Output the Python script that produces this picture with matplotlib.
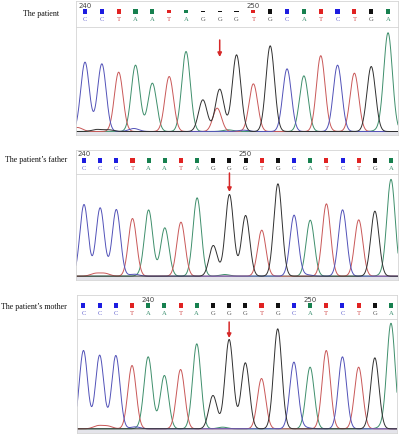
import numpy as np
import matplotlib
matplotlib.use('Agg')
import matplotlib.pyplot as plt

# ---- data ----
patient_bases = list('CCTAATAGGGTGCATCTGA')
patient_peaks = [208, 203, 178, 199, 145, 165, 240, 95, 127, 230, 143, 257, 188, 167, 225, 199, 175, 195, 295]
patient_qual = [1, 1, 1, 1, 1, 0.5, 0.8, 0.4, 0.4, 0.4, 0.5, 1, 1, 1, 1, 1, 1, 1, 1]
patient_extra = [('T', 7.85, 70)]                     # heterozygous T under the G
patient_noise = [('T', -0.45, 12), ('G', 0.7, 6), ('G', 1.4, 5), ('C', 2.9, 9),
                 ('A', 8.5, 5), ('C', 9.4, 4), ('T', 14.3, 4), ('A', 17.5, 5)]
patient_ticks = {0: '240', 10: '250'}
patient_arrow = (8, 276, 225)

father_bases = list('CCCTAATAGGGTGCATCTGA')
father_peaks = [215, 205, 200, 173, 197, 145, 162, 235, 92, 245, 182, 138, 277, 183, 168, 217, 199, 169, 195, 288]
father_qual = [1] * 20
father_extra = []
father_noise = [('T', 0.7, 8), ('T', 1.3, 8), ('C', 3.1, 6), ('A', 3.6, 4),
                ('A', 8.7, 5), ('C', 13.8, 4), ('A', 18.6, 6)]
father_ticks = {0: '240', 10: '250'}
father_arrow = (9, 311, 254)

mother_bases = list('CCCTAATAGGGTGCATCTGA')
mother_peaks = [235, 221, 220, 190, 213, 160, 178, 255, 100, 268, 198, 151, 300, 200, 185, 235, 216, 185, 213, 315]
mother_qual = [1] * 20
mother_extra = []
mother_noise = [('T', 0.9, 9), ('T', 1.5, 8), ('C', 3.2, 6), ('A', 3.7, 5),
                ('A', 8.6, 5), ('C', 13.7, 4), ('A', 18.5, 7)]
mother_ticks = {4: '240', 14: '250'}
mother_arrow = (9, 322, 274)

labels = ['The patient', 'The patient\u2019s father', 'The patient\u2019s mother']

TRACE = {'C': '#5252b8', 'T': '#c95858', 'A': '#3f8f6c', 'G': '#303030'}
SQUARE = {'C': '#1c1ce0', 'T': '#e02222', 'A': '#17804f', 'G': '#111111'}
LETTER = {'C': '#6464d0', 'T': '#d04848', 'A': '#3d9070', 'G': '#555555'}

W, H = 400, 434
fig = plt.figure(figsize=(W / 100, H / 100), dpi=100)


def px_axes(l, t, r, b):
    return fig.add_axes([l / W, 1 - b / H, (r - l) / W, (b - t) / H])


panels = [
    dict(bases=patient_bases, peaks=patient_peaks, qual=patient_qual, extra=patient_extra,
         noise=patient_noise, ticks=patient_ticks, arrow=patient_arrow,
         lab=(41, 14), box=(76, 1, 27, 135, 398), xlim=(-0.535, 18.59), ylim=(-9, 315)),
    dict(bases=father_bases, peaks=father_peaks, qual=father_qual, extra=father_extra,
         noise=father_noise, ticks=father_ticks, arrow=father_arrow,
         lab=(36, 160), box=(76, 150, 174, 280, 398), xlim=(-0.495, 19.43), ylim=(-10, 308)),
    dict(bases=mother_bases, peaks=mother_peaks, qual=mother_qual, extra=mother_extra,
         noise=mother_noise, ticks=mother_ticks, arrow=mother_arrow,
         lab=(34, 307), box=(77, 295, 319, 433, 397), xlim=(-0.4, 19.37), ylim=(-11, 331)),
]

sigma = 0.255
frame_col = '#d4d4d4'

for i, p in enumerate(panels):
    l, ht, hb, tb, r = p['box']
    n = len(p['bases'])
    pos = np.arange(n)

    # header with base calls
    hax = px_axes(l, ht, r, hb)
    hax.set_xlim(*p['xlim'])
    hax.set_ylim(hb - ht, 0)
    hax.set_xticks([]); hax.set_yticks([])
    for s in hax.spines.values():
        s.set_color(frame_col); s.set_linewidth(0.6)
    for k, (b, q) in enumerate(zip(p['bases'], p['qual'])):
        h = 4.2 * q
        hax.bar(pos[k], h, bottom=10.5 - h / 2, width=0.25, color=SQUARE[b])
        hax.text(pos[k], 18.5, b, ha='center', va='center', fontsize=4.8,
                 color=LETTER[b], family='Liberation Serif')
    for k, t in p['ticks'].items():
        hax.text(pos[k], 4.5, t, ha='center', va='center', fontsize=5, color='#444444')

    # trace
    ax = px_axes(l, hb, r, tb)
    ax.set_xlim(*p['xlim'])
    ax.set_ylim(*p['ylim'])
    ax.set_xticks([]); ax.set_yticks([])
    for s in ax.spines.values():
        s.set_color(frame_col); s.set_linewidth(0.6)
    ax.axhspan(p['ylim'][0], 0, color='#e4e4ea', lw=0)

    x = np.linspace(p['xlim'][0], p['xlim'][1], 1500)
    sig = {c: np.full_like(x, 1.5) for c in 'CTAG'}
    for k, (b, h) in enumerate(zip(p['bases'], p['peaks'])):
        sig[b] += h * np.exp(-0.5 * ((x - pos[k]) / sigma) ** 2)
    for b, c, h in p['extra']:
        sig[b] += h * np.exp(-0.5 * ((x - c) / sigma) ** 2)
    for b, c, h in p['noise']:
        sig[b] += h * np.exp(-0.5 * ((x - c) / 0.3) ** 2)
    for b in 'ATCG':
        ax.plot(x, sig[b], color=TRACE[b], lw=0.7)

    ak, ay0, ay1 = p['arrow']
    ax.annotate('', xy=(ak, ay1), xytext=(ak, ay0), annotation_clip=False,
                arrowprops=dict(arrowstyle='-|>', color='#d62828', lw=1.1,
                                mutation_scale=6, shrinkA=0, shrinkB=0))

    fig.text(p['lab'][0] / W, 1 - p['lab'][1] / H, labels[i], ha='center', va='center',
             fontsize=5.8, family='Liberation Serif', color='#111111')

fig.savefig('out.png', dpi=100)
